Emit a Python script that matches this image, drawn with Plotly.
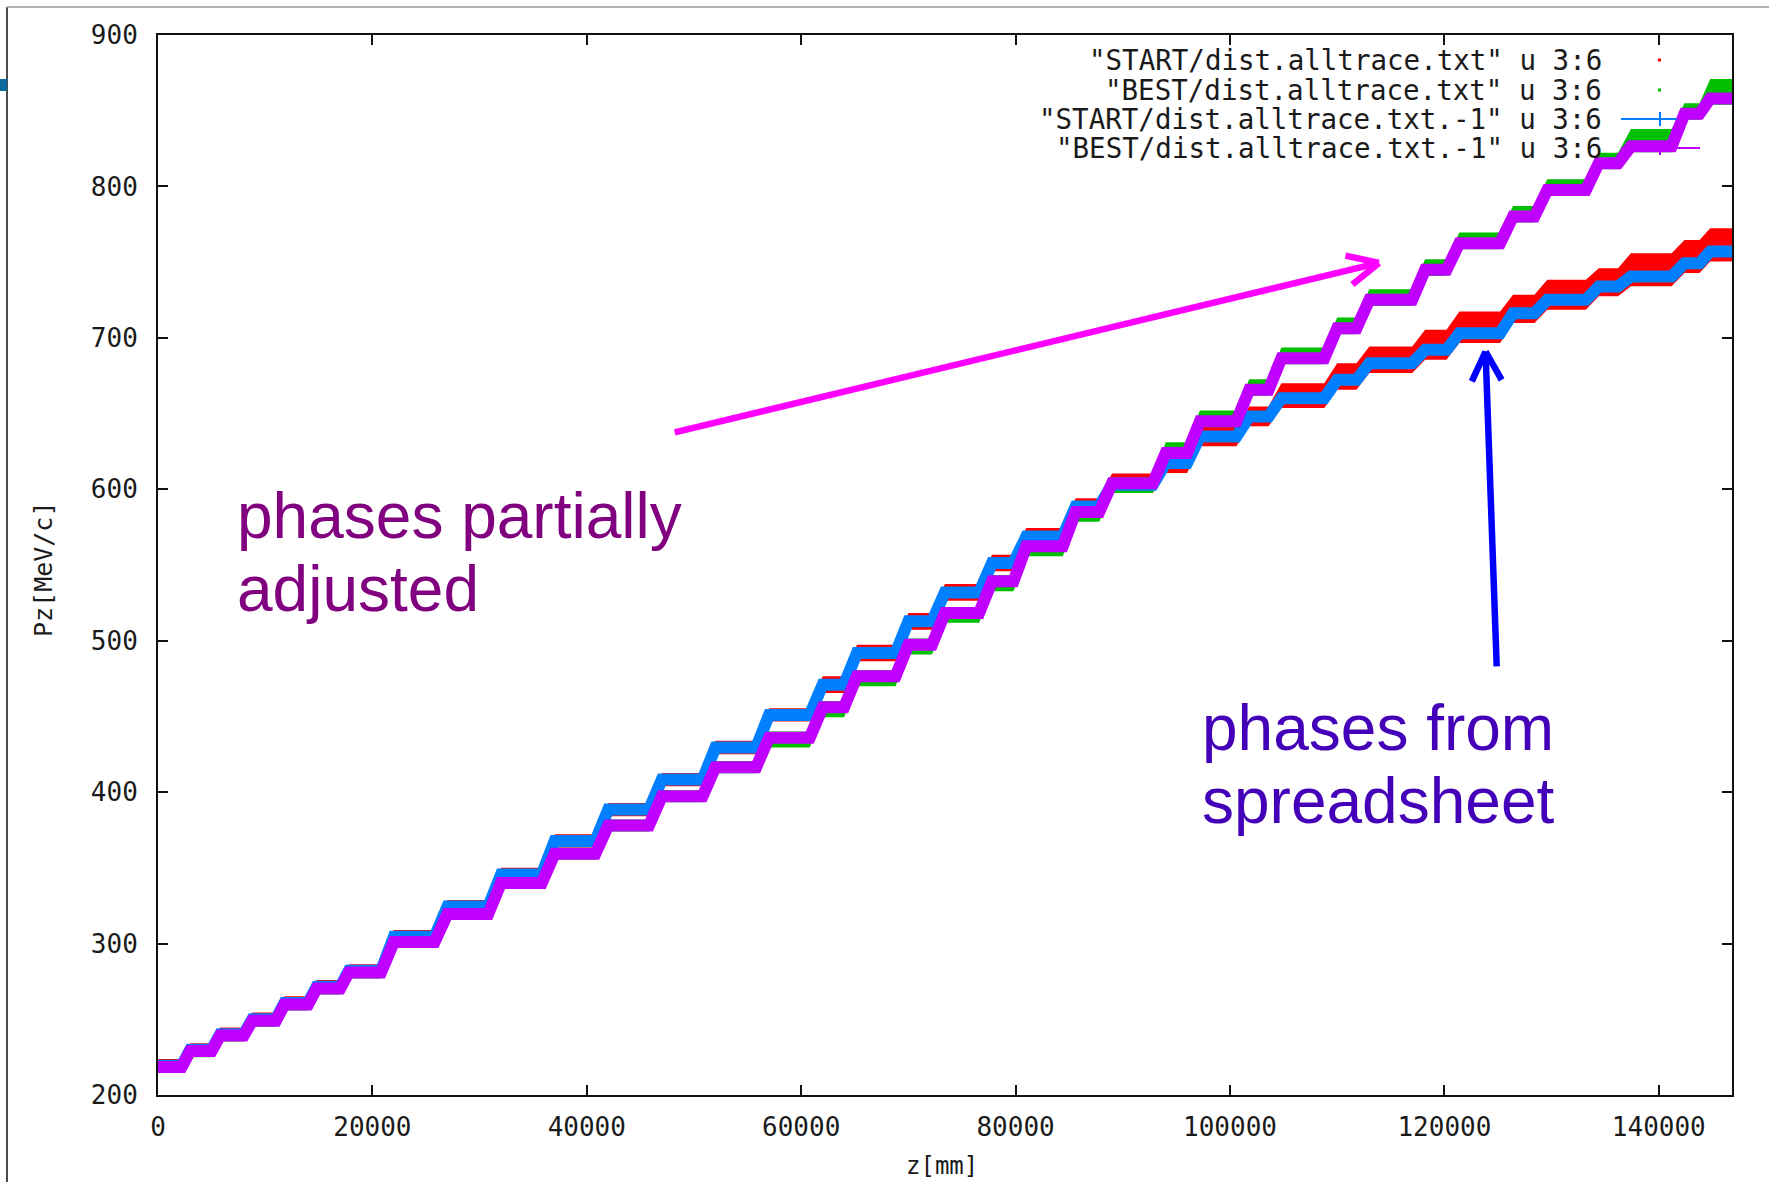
import plotly.graph_objects as go

# ---------------- data ----------------
# staircase plateaus (z in mm) shared by both runs (same cavity lattice)
plateau_z_start = [0, 3000, 5800, 8800, 11800, 14800, 17800, 22000, 27000, 32000,
                   37000, 42000, 47000, 52000, 57000, 62000, 65200, 70000, 73400, 77800,
                   81000, 85600, 89000, 94000, 97200, 101800, 104800, 110000, 113000, 118200,
                   121400, 126400, 129600, 134400, 137400, 142400, 144800]
plateau_z_end = [2200, 5000, 8000, 11000, 14000, 17000, 20800, 25800, 30800, 35800,
                 40800, 45800, 50800, 55800, 60800, 64000, 68800, 72200, 76600, 79800,
                 84400, 87800, 92800, 96000, 100600, 103600, 108800, 111800, 117000, 120200,
                 125200, 128400, 133200, 136200, 141200, 143800, 146830]

# BEST run, "-1" trace (purple band centre) [MeV/c]
best_pz = [218.5, 229.0, 239.3, 249.1, 259.8, 270.4, 280.9, 301.0, 319.5, 340.0,
           359.3, 378.0, 397.3, 416.5, 436.0, 456.0, 476.5, 497.4, 518.3, 539.2,
           562.3, 585.0, 604.0, 624.0, 645.0, 665.7, 686.6, 706.4, 725.1, 744.9,
           762.5, 780.1, 797.7, 815.3, 826.5, 848.0, 858.0]
# BEST run, all particles (green band upper / lower edge)
best_all_top = [222.5, 233.0, 243.3, 253.1, 263.8, 274.4, 284.9, 305.0, 323.5, 344.0,
                363.3, 382.0, 401.3, 420.5, 440.0, 460.0, 480.5, 501.4, 522.3, 543.2,
                566.3, 589.0, 608.0, 631.0, 652.0, 672.7, 693.6, 713.4, 732.1, 751.9,
                769.5, 787.1, 804.7, 822.3, 838.0, 855.0, 871.0]
best_all_bot = [214.5, 225.0, 235.3, 245.1, 255.8, 266.4, 276.9, 297.0, 315.5, 336.0,
                355.3, 374.0, 393.3, 412.5, 429.5, 449.5, 470.0, 490.9, 511.8, 532.7,
                555.8, 578.5, 597.5, 620.0, 641.0, 661.7, 682.6, 702.4, 721.1, 740.9,
                758.5, 776.1, 793.7, 811.3, 822.5, 844.0, 854.0]

# START run, "-1" trace (blue band centre)
start_pz = [219.3, 229.8, 240.2, 250.1, 260.8, 271.5, 282.0, 304.5, 324.4, 345.6,
            367.8, 388.5, 408.3, 429.5, 451.0, 471.0, 491.9, 512.8, 531.9, 551.3,
            568.9, 588.7, 603.0, 617.3, 634.9, 648.1, 660.2, 672.3, 683.3, 692.1,
            703.1, 716.3, 725.1, 733.9, 740.5, 749.3, 757.0]
# START run, all particles (red band upper / lower edge)
start_all_top = [223.7, 234.2, 244.6, 254.5, 265.2, 275.9, 286.4, 308.9, 328.8, 350.0,
                 372.2, 392.9, 412.7, 433.9, 455.4, 476.5, 497.4, 518.3, 537.4, 556.8,
                 574.4, 594.0, 610.5, 624.0, 641.5, 654.7, 670.1, 683.3, 694.3, 705.3,
                 717.4, 728.4, 738.3, 746.0, 755.9, 764.7, 772.4]
start_all_bot = [214.9, 225.4, 235.8, 245.7, 256.4, 267.1, 277.6, 300.1, 320.0, 341.2,
                 363.4, 384.1, 403.9, 425.1, 446.6, 465.5, 486.4, 507.3, 526.4, 545.8,
                 563.4, 583.2, 597.5, 610.8, 628.4, 641.6, 653.7, 665.8, 676.8, 685.6,
                 696.6, 709.8, 718.6, 727.4, 734.0, 742.8, 750.5]

x_ticks = [0, 20000, 40000, 60000, 80000, 100000, 120000, 140000]
y_ticks = [200, 300, 400, 500, 600, 700, 800, 900]

legend_labels = ['"START/dist.alltrace.txt" u 3:6',
                 '"BEST/dist.alltrace.txt" u 3:6',
                 '"START/dist.alltrace.txt.-1" u 3:6',
                 '"BEST/dist.alltrace.txt.-1" u 3:6']

# annotation arrows (data coordinates: z, Pz)
magenta_arrow = dict(tail=(48200, 637.6), tip=(113900, 749.5),
                     arm1=(110770, 754.3), arm2=(111420, 735.2))
blue_arrow = dict(tail=(124880, 483.0), tip=(123840, 691.0),
                  arm1=(122560, 671.2), arm2=(125340, 672.3))

# ---------------- layout geometry ----------------
W, H = 1769, 1182
L, R, T, B = 158, 37, 35, 87
PW, PH = W - L - R, H - T - B


def px_x(xf):
    return (xf - L) / PW


def px_y(yf):
    return (H - B - yf) / PH


def stair(levels):
    xs, ys = [], []
    for z0, z1, v in zip(plateau_z_start, plateau_z_end, levels):
        xs += [z0, z1]
        ys += [v, v]
    return xs, ys


def band(top, bot):
    xt, yt = stair(top)
    xb, yb = stair(bot)
    return xt + xb[::-1] + [xt[0]], yt + yb[::-1] + [yt[0]]


RED, GREEN, BLUE, PURPLE = '#FF0000', '#00C000', '#0080FF', '#C000FF'
MONO = 'DejaVu Sans Mono'

fig = go.Figure()

bx, by = band(start_all_top, start_all_bot)
fig.add_trace(go.Scatter(x=bx, y=by, mode='lines', fill='toself', fillcolor=RED,
                         line=dict(width=0, color=RED), hoverinfo='skip'))
bx, by = band(best_all_top, best_all_bot)
fig.add_trace(go.Scatter(x=bx, y=by, mode='lines', fill='toself', fillcolor=GREEN,
                         line=dict(width=0, color=GREEN), hoverinfo='skip'))
sx, sy = stair(start_pz)
fig.add_trace(go.Scatter(x=sx, y=sy, mode='lines', line=dict(width=12, color=BLUE)))
sx, sy = stair(best_pz)
fig.add_trace(go.Scatter(x=sx, y=sy, mode='lines', line=dict(width=12, color=PURPLE)))

axis_common = dict(showgrid=False, zeroline=False, showline=True, linewidth=2,
                   linecolor='#111', mirror='allticks', ticks='inside', ticklen=10,
                   tickwidth=2, tickcolor='#111',
                   tickfont=dict(family=MONO, size=26, color='#1a1a1a'))
fig.update_xaxes(range=[0, 146830], tickvals=x_ticks,
                 ticktext=[str(v) for v in x_ticks], ticklabelstandoff=8, **axis_common)
fig.update_yaxes(range=[200, 900], tickvals=y_ticks,
                 ticktext=[str(v) for v in y_ticks], ticklabelstandoff=13, **axis_common)

shapes = []
annotations = []

# arrows
for arr, col, wid in [(magenta_arrow, '#FF00FF', 6.5), (blue_arrow, '#0000FF', 6.5)]:
    for a, b in [(arr['tail'], arr['tip']), (arr['arm1'], arr['tip']), (arr['arm2'], arr['tip'])]:
        shapes.append(dict(type='line', xref='x', yref='y', x0=a[0], y0=a[1], x1=b[0], y1=b[1],
                           line=dict(color=col, width=wid), layer='above'))

# legend (gnuplot style: text right-aligned, sample on the right)
leg_y = [60, 90, 119, 148]
for lab, yy in zip(legend_labels, leg_y):
    annotations.append(dict(text=lab, xref='paper', yref='paper', x=px_x(1604), y=px_y(yy),
                            xanchor='right', yanchor='middle', showarrow=False,
                            font=dict(family=MONO, size=27.5, color='#1a1a1a')))
shapes.append(dict(type='rect', xref='paper', yref='paper', x0=px_x(1658), x1=px_x(1661),
                   y0=px_y(leg_y[0] - 1.5), y1=px_y(leg_y[0] + 1.5), fillcolor=RED,
                   line=dict(width=0)))
shapes.append(dict(type='rect', xref='paper', yref='paper', x0=px_x(1658), x1=px_x(1661),
                   y0=px_y(leg_y[1] - 1.5), y1=px_y(leg_y[1] + 1.5), fillcolor=GREEN,
                   line=dict(width=0)))
for yy, col, xe in [(leg_y[2], BLUE, 1677), (leg_y[3], PURPLE, 1700)]:
    shapes.append(dict(type='line', xref='paper', yref='paper', x0=px_x(1621), x1=px_x(xe),
                       y0=px_y(yy), y1=px_y(yy), line=dict(color=col, width=2)))
    shapes.append(dict(type='line', xref='paper', yref='paper', x0=px_x(1660), x1=px_x(1660),
                       y0=px_y(yy - 7), y1=px_y(yy + 7), line=dict(color=col, width=2)))

# axis titles
annotations.append(dict(text='Pz[MeV/c]', xref='paper', yref='paper', x=px_x(43), y=px_y(570),
                        textangle=-90, showarrow=False, xanchor='center', yanchor='middle',
                        font=dict(family=MONO, size=25, color='#1a1a1a')))
annotations.append(dict(text='z[mm]', xref='paper', yref='paper', x=px_x(942), y=px_y(1166),
                        showarrow=False, xanchor='center', yanchor='middle',
                        font=dict(family=MONO, size=24, color='#1a1a1a')))

# slide text
SANS = 'Liberation Sans, Arial'
for txt, xx, yy, col in [('phases partially', 235, 516, '#800080'),
                         ('adjusted', 235, 589, '#800080'),
                         ('phases from', 1200, 728, '#4400B8'),
                         ('spreadsheet', 1200, 801, '#4400B8')]:
    annotations.append(dict(text=txt, xref='paper', yref='paper', x=px_x(xx), y=px_y(yy),
                            xanchor='left', yanchor='middle', showarrow=False,
                            font=dict(family=SANS, size=64, color=col)))

# slide frame decorations
shapes.append(dict(type='line', xref='paper', yref='paper', x0=px_x(7), x1=px_x(7),
                   y0=px_y(7), y1=px_y(H + 5), line=dict(color='#111', width=1.5)))
shapes.append(dict(type='line', xref='paper', yref='paper', x0=px_x(7), x1=px_x(W + 5),
                   y0=px_y(7), y1=px_y(7), line=dict(color='#9a9a9a', width=1.5)))
shapes.append(dict(type='rect', xref='paper', yref='paper', x0=px_x(0), x1=px_x(7),
                   y0=px_y(79), y1=px_y(91), fillcolor='#0b6a9c', line=dict(width=0)))

fig.update_layout(width=W, height=H, margin=dict(l=L, r=R, t=T, b=B),
                  paper_bgcolor='white', plot_bgcolor='white', showlegend=False,
                  shapes=shapes, annotations=annotations)

fig.write_html("out.html")
